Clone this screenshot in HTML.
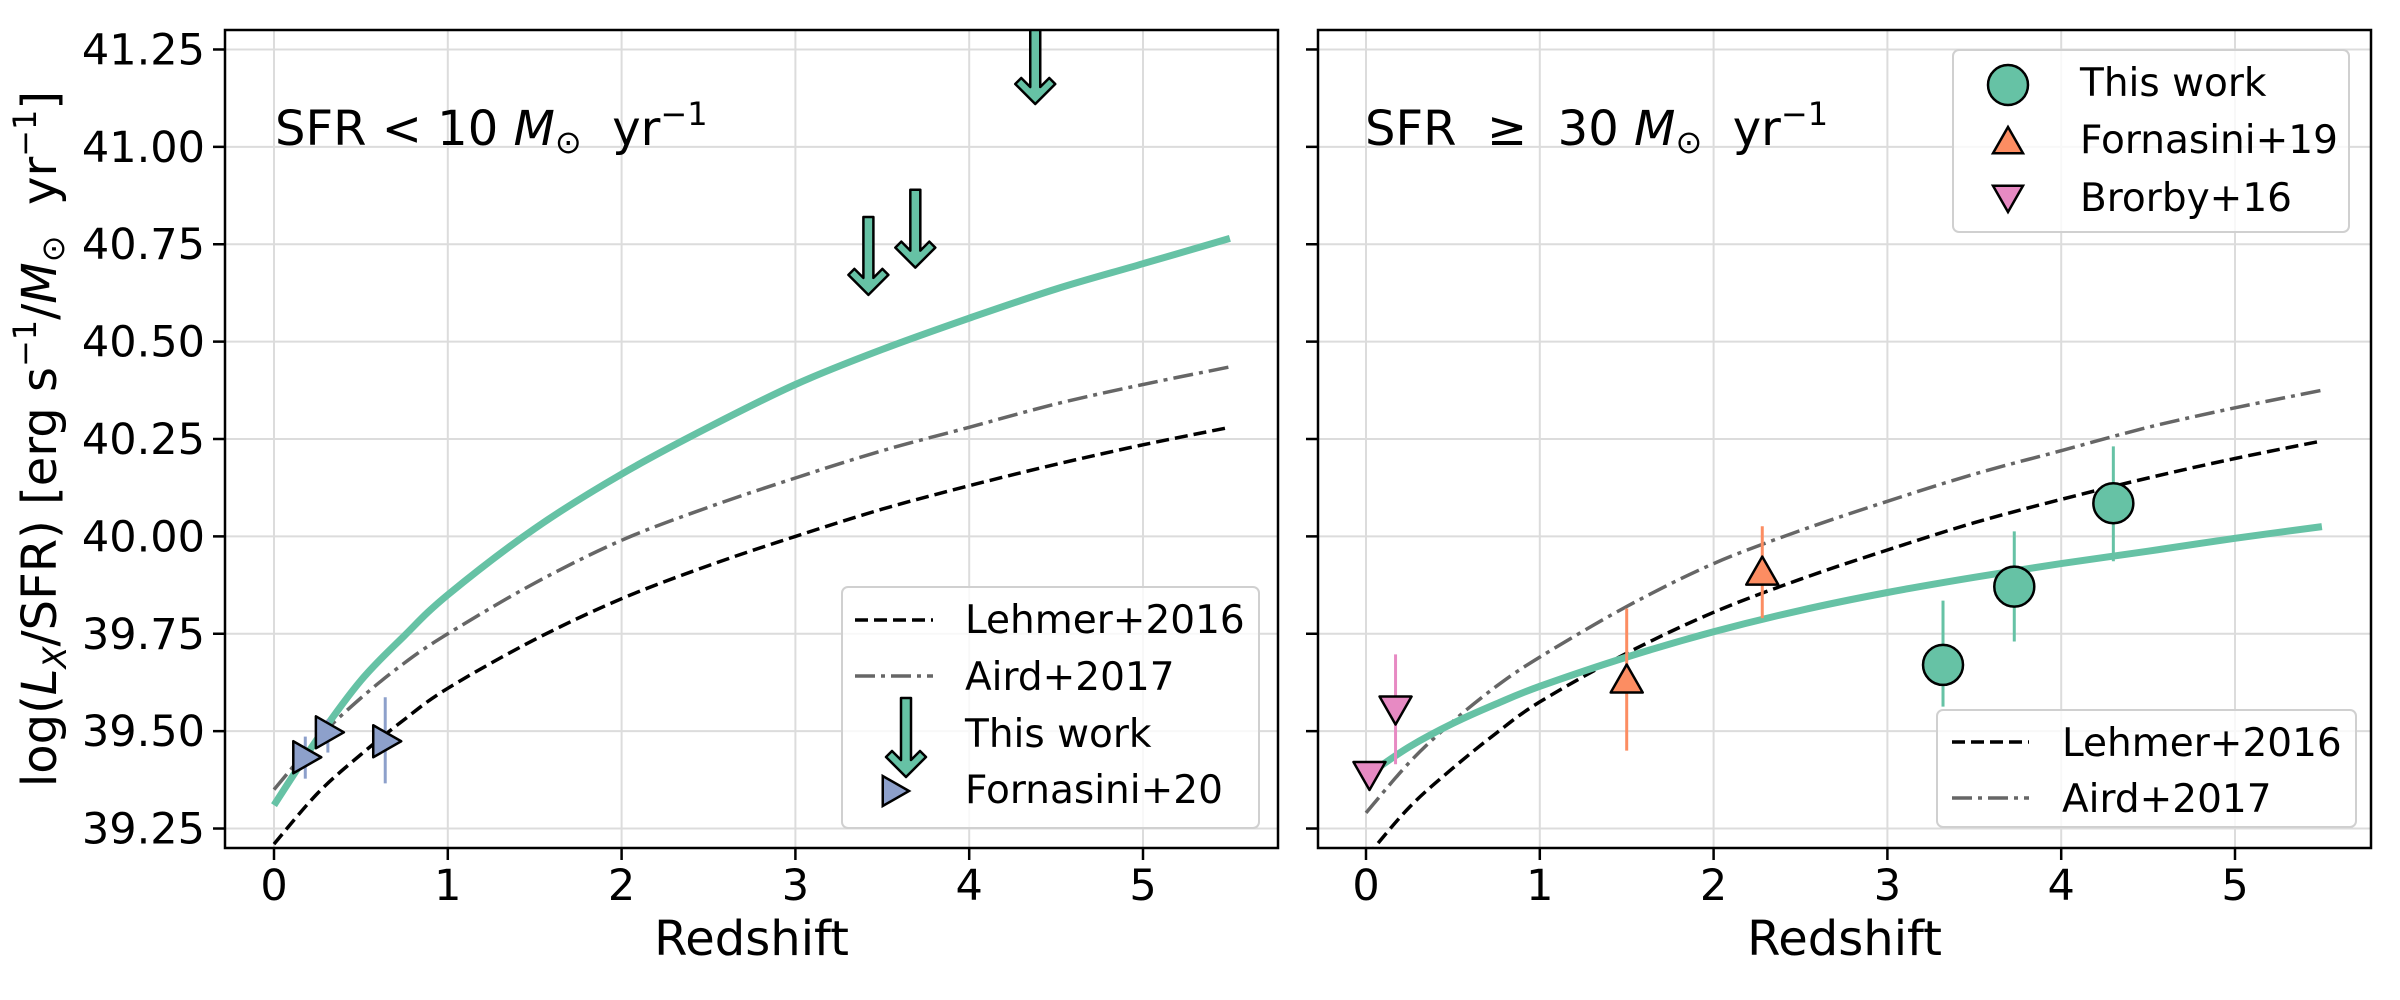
<!DOCTYPE html>
<html><head><meta charset="utf-8">
<style>
html,body{margin:0;padding:0;background:#fff;}
svg{display:block;font-family:"DejaVu Sans","Liberation Sans",sans-serif;}
</style></head>
<body>
<svg id="fig" width="2400" height="1000" viewBox="0 0 2400 1000" xmlns="http://www.w3.org/2000/svg">
<rect width="2400" height="1000" fill="#fff"/>
</svg>
<script>
// ---------- data ----------
const xTicks = [0, 1, 2, 3, 4, 5];
const yTicks = [39.25, 39.5, 39.75, 40.0, 40.25, 40.5, 40.75, 41.0, 41.25];
const yTickLabels = ["39.25","39.50","39.75","40.00","40.25","40.50","40.75","41.00","41.25"];
const curveZ = [0, 0.25, 0.5, 0.75, 1, 1.5, 2, 2.5, 3, 3.5, 4, 4.5, 5, 5.5];
const leftThisWork = [39.31, 39.48, 39.63, 39.745, 39.85, 40.02, 40.16, 40.28, 40.39, 40.48, 40.56, 40.635, 40.70, 40.765];
const leftAird = [39.35, 39.48, 39.585, 39.675, 39.75, 39.88, 39.99, 40.075, 40.15, 40.22, 40.28, 40.34, 40.39, 40.435];
const leftLehmer = [39.21, 39.34, 39.44, 39.53, 39.61, 39.735, 39.84, 39.925, 40.0, 40.07, 40.13, 40.185, 40.235, 40.28];
const rightAird = [39.29, 39.42, 39.525, 39.615, 39.69, 39.82, 39.93, 40.015, 40.09, 40.16, 40.22, 40.28, 40.33, 40.375];
const rightLehmer = [39.175, 39.305, 39.405, 39.495, 39.575, 39.70, 39.805, 39.89, 39.965, 40.035, 40.095, 40.15, 40.20, 40.245];
const rightZ = [0.05, 0.25, 0.5, 0.75, 1, 1.5, 2, 2.5, 3, 3.5, 4, 4.5, 5, 5.5];
const rightThisWork = [39.40, 39.46, 39.52, 39.57, 39.615, 39.69, 39.755, 39.81, 39.856, 39.895, 39.93, 39.962, 39.995, 40.025];
// left-panel upper limits (This work)
const limZ = [3.42, 3.69, 4.38];
const limTop = [40.82, 40.89, 41.31];
const limLen = [0.2, 0.2, 0.2];
// Fornasini+20
const f20Z = [0.18, 0.31, 0.64];
const f20Y = [39.433, 39.497, 39.474];
const f20Lo = [39.378, 39.445, 39.366];
const f20Hi = [39.486, 39.53, 39.587];
// right panel This work
const twZ = [3.32, 3.73, 4.30];
const twY = [39.67, 39.871, 40.085];
const twLo = [39.563, 39.73, 39.936];
const twHi = [39.835, 40.013, 40.231];
// Fornasini+19
const f19Z = [1.50, 2.28];
const f19Y = [39.63, 39.907];
const f19Lo = [39.45, 39.79];
const f19Hi = [39.815, 40.026];
// Brorby+16
const b16Z = [0.02, 0.17];
const b16Y = [39.39, 39.558];
const b16Lo = [null, 39.415];
const b16Hi = [null, 39.697];

// ---------- helpers ----------
const NS = "http://www.w3.org/2000/svg";
const svg = document.getElementById("fig");
function mk(tag, attrs, parent) {
  const e = document.createElementNS(NS, tag);
  for (const k in attrs) e.setAttribute(k, attrs[k]);
  (parent || svg).appendChild(e);
  return e;
}
const GREEN = "#66c2a5", ORANGE = "#fc8d62", PINK = "#e78ac3", BLUE = "#8da0cb";
const Y0 = 39.2, Y1 = 41.3, TOP = 30, BOT = 848;
function yS(v) { return TOP + (Y1 - v) * (BOT - TOP) / (Y1 - Y0); }
function makeX(x0px) { return z => x0px + z * 173.8; }

function panel(left, right, x0px, name, withLabels) {
  const xS = makeX(x0px);
  const g = mk("g", {});
  
  
  mk("defs", {}, g).innerHTML = `<clipPath id="clip-${name}"><rect x="${left}" y="${TOP}" width="${right-left}" height="${BOT-TOP}"/></clipPath>`;
  xTicks.forEach(t => {
    const l = mk("line", {x1: xS(t), x2: xS(t), y1: TOP, y2: BOT, stroke: "#dcdcdc", "stroke-width": 2}, g);
    
    
  });
  yTicks.forEach(t => {
    const l = mk("line", {x1: left, x2: right, y1: yS(t), y2: yS(t), stroke: "#dcdcdc", "stroke-width": 2}, g);
    
    
  });
  xTicks.forEach(t => {
    mk("line", {x1: xS(t), x2: xS(t), y1: BOT, y2: BOT + 12, stroke: "#000", "stroke-width": 2.5}, g);
    const tx = mk("text", {x: xS(t), y: 900, "font-size": 43, "text-anchor": "middle", fill: "#000"}, g);
    tx.textContent = t;
    
    
  });
  yTicks.forEach((t, i) => {
    mk("line", {x1: left - 12, x2: left, y1: yS(t), y2: yS(t), stroke: "#000", "stroke-width": 2.5}, g);
    if (withLabels) {
      const tx = mk("text", {x: left - 20, y: yS(t) + 15, "font-size": 43, "text-anchor": "end", fill: "#000"}, g);
      tx.textContent = yTickLabels[i];
      
      
    }
  });
  const xl = mk("text", {x: (left + right) / 2, y: 955, "font-size": 48, "text-anchor": "middle", fill: "#000"}, g);
  xl.textContent = "Redshift";
  
  
  const plot = mk("g", {"clip-path": `url(#clip-${name})`}, g);
  return {g, plot, xS, left, right};
}

// smooth curve through points (Catmull-Rom -> cubic Bezier)
function curve(p, zs, ys, attrs, name) {
  const P = zs.map((z, i) => [p.xS(z), yS(ys[i])]);
  let d = `M${P[0][0].toFixed(1)} ${P[0][1].toFixed(1)}`;
  for (let i = 0; i < P.length - 1; i++) {
    const p0 = P[Math.max(0, i - 1)], p1 = P[i], p2 = P[i + 1], p3 = P[Math.min(P.length - 1, i + 2)];
    const c1 = [p1[0] + (p2[0] - p0[0]) / 6, p1[1] + (p2[1] - p0[1]) / 6];
    const c2 = [p2[0] - (p3[0] - p1[0]) / 6, p2[1] - (p3[1] - p1[1]) / 6];
    d += ` C${c1[0].toFixed(1)} ${c1[1].toFixed(1)} ${c2[0].toFixed(1)} ${c2[1].toFixed(1)} ${p2[0].toFixed(1)} ${p2[1].toFixed(1)}`;
  }
  const e = mk("path", Object.assign({d, fill: "none"}, attrs), p.plot);
  
  
}
function errbar(p, z, lo, hi, color, name) {
  if (lo == null) return;
  const e = mk("line", {x1: p.xS(z), x2: p.xS(z), y1: yS(lo), y2: yS(hi), stroke: color, "stroke-width": 3}, p.plot);
  
  
}
function triPts(cx, cy, dir, s) {
  if (dir === "up") return `${cx},${cy - s} ${cx + s * 1.0},${cy + s * 0.75} ${cx - s * 1.0},${cy + s * 0.75}`;
  if (dir === "down") return `${cx},${cy + s} ${cx + s * 1.0},${cy - s * 0.75} ${cx - s * 1.0},${cy - s * 0.75}`;
  return `${cx + s},${cy} ${cx - s * 0.75},${cy - s} ${cx - s * 0.75},${cy + s}`;
}
function arrowPts(x, top, tip) {
  return [[x-5,top],[x+5,top],[x+5,tip-17],[x+14,tip-26],[x+20,tip-20],[x,tip],[x-20,tip-20],[x-14,tip-26],[x-5,tip-17]].map(p=>p.join(",")).join(" ");
}

// ---------- left panel ----------
const L = panel(225, 1278, 274, "left-panel", true);
curve(L, curveZ, leftLehmer, {stroke: "#000", "stroke-width": 3.5, "stroke-dasharray": "13 6"}, "lehmer-2016-curve");
curve(L, curveZ, leftAird, {stroke: "#666", "stroke-width": 3.5, "stroke-dasharray": "20 6 4 6"}, "aird-2017-curve");
curve(L, curveZ, leftThisWork, {stroke: GREEN, "stroke-width": 7}, "this-work-curve");
f20Z.forEach((z, i) => errbar(L, z, f20Lo[i], f20Hi[i], BLUE, "fornasini20-errorbar"));
f20Z.forEach((z, i) => {
  const m = mk("polygon", {points: triPts(L.xS(z), yS(f20Y[i]), "right", 16), fill: BLUE, stroke: "#000", "stroke-width": 2.5, "stroke-linejoin": "round"}, L.plot);
  
  
});
limZ.forEach((z, i) => {
  const m = mk("polygon", {points: arrowPts(L.xS(z), yS(limTop[i]), yS(limTop[i] - limLen[i])), fill: GREEN, stroke: "#000", "stroke-width": 2.5, "stroke-linejoin": "round"}, L.plot);
  
  
});
mk("rect", {x: 225, y: TOP, width: 1053, height: BOT - TOP, fill: "none", stroke: "#000", "stroke-width": 2.5}, L.g);
const t1 = mk("text", {x: 275, y: 145, "font-size": 48, fill: "#000"}, L.g);
t1.innerHTML = 'SFR &lt; 10 <tspan font-style="italic">M</tspan><tspan font-size="32" dy="8">⊙</tspan><tspan dy="-8">&#160;&#160;yr</tspan><tspan font-size="32" dy="-20">−1</tspan>';



// left legend
const lg = mk("g", {});


mk("rect", {x: 842, y: 587, width: 417, height: 241, rx: 6, fill: "#fff", "fill-opacity": 0.8, stroke: "#d0d0d0", "stroke-width": 2}, lg);
mk("line", {x1: 855, x2: 933, y1: 620, y2: 620, stroke: "#000", "stroke-width": 3.5, "stroke-dasharray": "13 6"}, lg);
mk("line", {x1: 855, x2: 933, y1: 676, y2: 676, stroke: "#666", "stroke-width": 3.5, "stroke-dasharray": "20 6 4 6"}, lg);
mk("polygon", {points: arrowPts(906, 698, 777), fill: GREEN, stroke: "#000", "stroke-width": 2.5, "stroke-linejoin": "round"}, lg);
mk("polygon", {points: triPts(894, 791, "right", 15), fill: BLUE, stroke: "#000", "stroke-width": 2.5}, lg);
[["Lehmer+2016", 633], ["Aird+2017", 690], ["This work", 747], ["Fornasini+20", 803]].forEach(([s, y]) => {
  const t = mk("text", {x: 965, y, "font-size": 39, fill: "#000"}, lg);
  t.textContent = s;
  
  
});

// y label
const yl = mk("text", {x: 0, y: 0, "font-size": 48, "text-anchor": "middle", fill: "#000", transform: "translate(56,439) rotate(-90)"});
yl.innerHTML = 'log(<tspan font-style="italic">L</tspan><tspan font-size="32" dy="10" font-style="italic">X</tspan><tspan dy="-10">/SFR) [erg s</tspan><tspan font-size="32" dy="-20">−1</tspan><tspan dy="20">/</tspan><tspan font-style="italic">M</tspan><tspan font-size="32" dy="8">⊙</tspan><tspan dy="-8">&#160;&#160;yr</tspan><tspan font-size="32" dy="-20">−1</tspan><tspan dy="20">]</tspan>';



// ---------- right panel ----------
const R = panel(1318, 2371, 1366, "right-panel", false);
curve(R, curveZ, rightLehmer, {stroke: "#000", "stroke-width": 3.5, "stroke-dasharray": "13 6"}, "lehmer-2016-curve");
curve(R, curveZ, rightAird, {stroke: "#666", "stroke-width": 3.5, "stroke-dasharray": "20 6 4 6"}, "aird-2017-curve");
curve(R, rightZ, rightThisWork, {stroke: GREEN, "stroke-width": 7}, "this-work-curve");
b16Z.forEach((z, i) => errbar(R, z, b16Lo[i], b16Hi[i], PINK, "brorby16-errorbar"));
f19Z.forEach((z, i) => errbar(R, z, f19Lo[i], f19Hi[i], ORANGE, "fornasini19-errorbar"));
twZ.forEach((z, i) => errbar(R, z, twLo[i], twHi[i], GREEN, "this-work-errorbar"));
b16Z.forEach((z, i) => {
  const m = mk("polygon", {points: triPts(R.xS(z), yS(b16Y[i]), "down", 16), fill: PINK, stroke: "#000", "stroke-width": 2.5, "stroke-linejoin": "round"}, R.plot);
  
  
});
f19Z.forEach((z, i) => {
  const m = mk("polygon", {points: triPts(R.xS(z), yS(f19Y[i]), "up", 16), fill: ORANGE, stroke: "#000", "stroke-width": 2.5, "stroke-linejoin": "round"}, R.plot);
  
  
});
twZ.forEach((z, i) => {
  const m = mk("circle", {cx: R.xS(z), cy: yS(twY[i]), r: 20, fill: GREEN, stroke: "#000", "stroke-width": 2.5}, R.plot);
  
  
});
mk("rect", {x: 1318, y: TOP, width: 1053, height: BOT - TOP, fill: "none", stroke: "#000", "stroke-width": 2.5}, R.g);
const t2 = mk("text", {x: 1365, y: 145, "font-size": 48, fill: "#000"}, R.g);
t2.innerHTML = 'SFR&#160;&#160;≥&#160;&#160;30 <tspan font-style="italic">M</tspan><tspan font-size="32" dy="8">⊙</tspan><tspan dy="-8">&#160;&#160;yr</tspan><tspan font-size="32" dy="-20">−1</tspan>';



// right top legend
const rg = mk("g", {});


mk("rect", {x: 1953, y: 50, width: 396, height: 182, rx: 6, fill: "#fff", "fill-opacity": 0.8, stroke: "#d0d0d0", "stroke-width": 2}, rg);
mk("circle", {cx: 2008, cy: 85, r: 20, fill: GREEN, stroke: "#000", "stroke-width": 2.5}, rg);
mk("polygon", {points: triPts(2008, 142, "up", 15), fill: ORANGE, stroke: "#000", "stroke-width": 2.5}, rg);
mk("polygon", {points: triPts(2008, 197, "down", 15), fill: PINK, stroke: "#000", "stroke-width": 2.5}, rg);
[["This work", 96], ["Fornasini+19", 153], ["Brorby+16", 211]].forEach(([s, y]) => {
  const t = mk("text", {x: 2080, y, "font-size": 39, fill: "#000"}, rg);
  t.textContent = s;
  
  
});

// right bottom legend
const rb = mk("g", {});


mk("rect", {x: 1937, y: 710, width: 419, height: 117, rx: 6, fill: "#fff", "fill-opacity": 0.8, stroke: "#d0d0d0", "stroke-width": 2}, rb);
mk("line", {x1: 1952, x2: 2029, y1: 742, y2: 742, stroke: "#000", "stroke-width": 3.5, "stroke-dasharray": "13 6"}, rb);
mk("line", {x1: 1952, x2: 2029, y1: 798, y2: 798, stroke: "#666", "stroke-width": 3.5, "stroke-dasharray": "20 6 4 6"}, rb);
[["Lehmer+2016", 756], ["Aird+2017", 812]].forEach(([s, y]) => {
  const t = mk("text", {x: 2062, y, "font-size": 39, fill: "#000"}, rb);
  t.textContent = s;
  
  
});
</script>
</body></html>
